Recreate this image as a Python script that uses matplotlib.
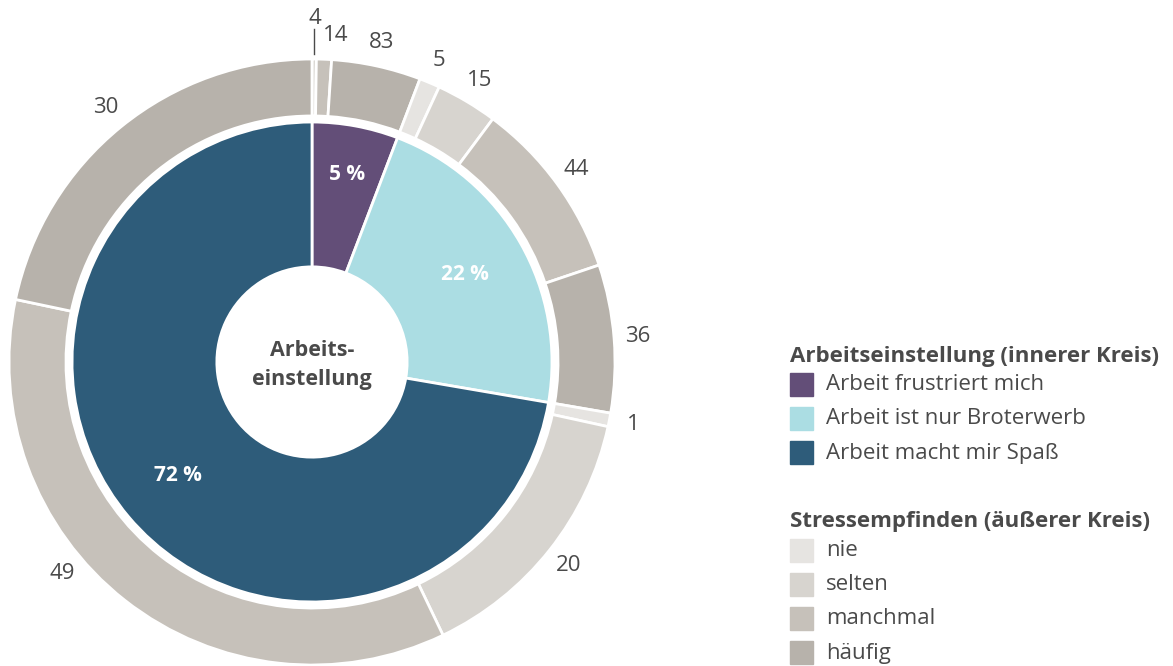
import numpy as np
import matplotlib
matplotlib.use("Agg")
import matplotlib.pyplot as plt
from matplotlib.patches import Rectangle

# inner ring: attitude towards work (share of respondents, %)
attitudes = ["Arbeit frustriert mich", "Arbeit ist nur Broterwerb", "Arbeit macht mir Spaß"]
attitude_share = [5.8, 21.9, 72.3]
attitude_labels = ["5 %", "22 %", "72 %"]

# outer ring: stress level within each attitude group (%)
stress_levels = ["nie", "selten", "manchmal", "häufig"]
stress_frustriert = [0, 4, 14, 83]
stress_broterwerb = [5, 15, 44, 36]
stress_spass = [1, 20, 49, 30]

inner_colors = ["#634e78", "#abdde3", "#2e5c7a"]
stress_colors = ["#e6e4e1", "#d7d4cf", "#c6c1ba", "#b7b2ab"]
txt = "#4a4a4a"

plt.rcParams['font.family'] = ['Open Sans', 'DejaVu Sans']

W, H = 1173, 666
fig = plt.figure(figsize=(W / 100, H / 100), dpi=100)
R = 303.0
cx, cy = 312, 304  # centre in pixels from bottom-left
ax = fig.add_axes([0, 0, 2 * cx / W, 2 * cy / H])

# outer ring sizes
groups = [stress_frustriert, stress_broterwerb, stress_spass]
outer_sizes, outer_cols, outer_vals = [], [], []
for share, grp in zip(attitude_share, groups):
    tot = sum(grp)
    for v, c in zip(grp, stress_colors):
        outer_sizes.append(share * v / tot)
        outer_cols.append(c)
        outer_vals.append(v)

ax.pie(outer_sizes, radius=1.0, colors=outer_cols, startangle=90, counterclock=False,
       wedgeprops=dict(width=1.0 - 0.812, edgecolor="white", linewidth=2))
ax.pie(attitude_share, radius=0.792, colors=inner_colors, startangle=90, counterclock=False,
       wedgeprops=dict(width=0.792 - 0.314, edgecolor="white", linewidth=2))
ax.set_xlim(-cx / R, cx / R)
ax.set_ylim(-cy / R, cy / R)
ax.set_aspect("auto")
ax.axis("off")

# inner percentage labels
total = sum(attitude_share)
start = 0.0
for share, lab in zip(attitude_share, attitude_labels):
    mid = np.deg2rad((start + share / 2) / total * 360)
    rr = 0.63 if share < 10 else 0.58
    ax.text(rr * np.sin(mid), rr * np.cos(mid), lab, color="white", fontsize=15,
            fontweight="bold", ha="center", va="center")
    start += share

# outer value labels
otot = sum(outer_sizes)
start = 0.0
for size, v in zip(outer_sizes, outer_vals):
    if v == 0:
        continue
    mid_deg = (start + size / 2) / otot * 360
    r = 1.08
    dx = 0
    if size / otot * 360 < 1.0 and mid_deg < 5:
        # tiny slice at the top gets a leader line
        r = 1.135
        m = np.deg2rad(mid_deg)
        ax.plot([np.sin(m), np.sin(m)], [1.015, 1.1], color=txt, lw=1, clip_on=False)
    elif mid_deg < 5:
        dx = 0.035
    elif 200 < mid_deg < 240:
        mid_deg += 11.5  # label sits further round in the original
    mid = np.deg2rad(mid_deg)
    ax.text(r * np.sin(mid) + dx, r * np.cos(mid), str(v), color=txt, fontsize=16,
            ha="center", va="center", clip_on=False)
    start += size

ax.text(0, -0.01, "Arbeits-\neinstellung", color=txt, fontsize=15.5, fontweight="bold",
        ha="center", va="center", linespacing=1.45)

# legend drawn by hand
def legend_block(y_title, title, names, colors):
    fig.text(790 / W, 1 - y_title / H, title, color=txt, fontsize=16, fontweight="bold",
             va="center", ha="left")
    for i, (n, c) in enumerate(zip(names, colors)):
        y = y_title + 29 + i * 34
        fig.patches.append(Rectangle((790 / W, 1 - (y + 11) / H), 23 / W, 23 / H,
                                     transform=fig.transFigure, color=c))
        fig.text(826 / W, 1 - y / H, n, color=txt, fontsize=16, va="center", ha="left")

legend_block(356, "Arbeitseinstellung (innerer Kreis)", attitudes, inner_colors)
legend_block(522, "Stressempfinden (äußerer Kreis)", stress_levels, stress_colors)

fig.savefig("out.png", dpi=100)
